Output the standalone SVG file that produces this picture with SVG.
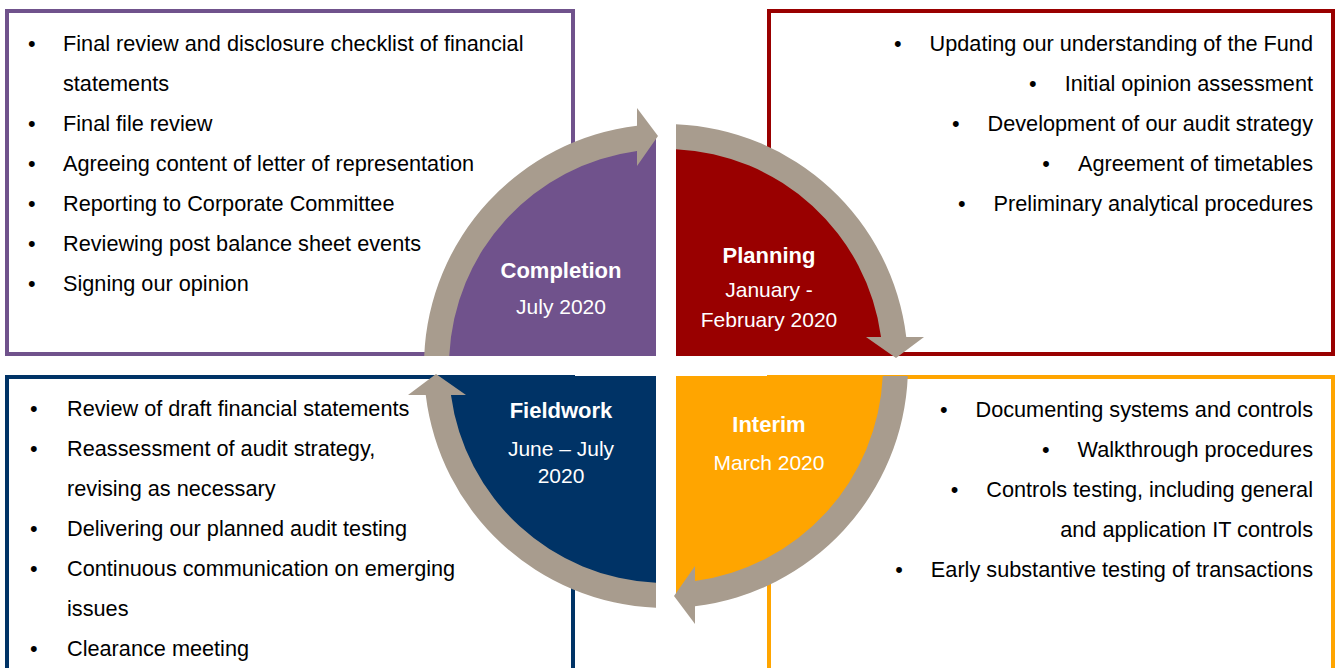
<svg xmlns="http://www.w3.org/2000/svg" xmlns:xlink="http://www.w3.org/1999/xlink" width="1342" height="668" viewBox="0 0 1342 668">
<style>
  .box { fill: #ffffff; stroke-width: 4; }
  .body { font-family: "Liberation Sans", Arial, sans-serif; font-size: 21.7px; fill: #000000; }
  .lbl { font-family: "Liberation Sans", Arial, sans-serif; font-size: 21px; fill: #ffffff; text-anchor: middle; }
  .lblb { font-weight: bold; font-size: 22px; }
  .r { text-anchor: end; }
  .ring { fill: #A89C8E; }
</style>
<defs>
  <path id="arrow" d="M424.21,356 A242,242 0 0 1 637,125.74 L637,108 L658,136 L637,166 L637,150.95 A217,217 0 0 0 449.23,356 Z"/>
</defs>
<rect width="1342" height="668" fill="#ffffff"/>

<g id="box-completion">
  <rect class="box" x="7" y="11" width="566" height="343" stroke="#70528C"/>
  <g class="body">
    <text x="28" y="51">•</text><text x="63" y="51">Final review and disclosure checklist of financial</text>
    <text x="63" y="91">statements</text>
    <text x="28" y="131">•</text><text x="63" y="131">Final file review</text>
    <text x="28" y="171">•</text><text x="63" y="171">Agreeing content of letter of representation</text>
    <text x="28" y="211">•</text><text x="63" y="211">Reporting to Corporate Committee</text>
    <text x="28" y="251">•</text><text x="63" y="251">Reviewing post balance sheet events</text>
    <text x="28" y="291">•</text><text x="63" y="291">Signing our opinion</text>
  </g>
</g>

<g id="box-planning">
  <rect class="box" x="769" y="11" width="564" height="343" stroke="#990000"/>
  <g class="body r">
    <text x="1313" y="51">•<tspan dx="28">Updating our understanding of the Fund</tspan></text>
    <text x="1313" y="91">•<tspan dx="28">Initial opinion assessment</tspan></text>
    <text x="1313" y="131">•<tspan dx="28">Development of our audit strategy</tspan></text>
    <text x="1313" y="171">•<tspan dx="28">Agreement of timetables</tspan></text>
    <text x="1313" y="211">•<tspan dx="28">Preliminary analytical procedures</tspan></text>
  </g>
</g>

<g id="box-fieldwork">
  <rect class="box" x="7" y="377" width="566" height="300" stroke="#003366"/>
  <g class="body">
    <text x="30" y="416">•</text><text x="67" y="416">Review of draft financial statements</text>
    <text x="30" y="456">•</text><text x="67" y="456">Reassessment of audit strategy,</text>
    <text x="67" y="496">revising as necessary</text>
    <text x="30" y="536">•</text><text x="67" y="536">Delivering our planned audit testing</text>
    <text x="30" y="576">•</text><text x="67" y="576">Continuous communication on emerging</text>
    <text x="67" y="616">issues</text>
    <text x="30" y="656">•</text><text x="67" y="656">Clearance meeting</text>
  </g>
</g>

<g id="box-interim">
  <rect class="box" x="769" y="377" width="564" height="300" stroke="#FFA500"/>
  <g class="body r">
    <text x="1313" y="417">•<tspan dx="28">Documenting systems and controls</tspan></text>
    <text x="1313" y="457">•<tspan dx="28">Walkthrough procedures</tspan></text>
    <text x="1313" y="497">•<tspan dx="28">Controls testing, including general</tspan></text>
    <text x="1313" y="537">and application IT controls</text>
    <text x="1313" y="577">•<tspan dx="28">Early substantive testing of transactions</tspan></text>
  </g>
</g>

<g id="quadrant-completion">
  <path d="M656,356 V136.2 A230,230 0 0 0 436.2,356 Z" fill="#70528C"/>
  <text class="lbl lblb" x="561" y="278">Completion</text>
  <text class="lbl" x="561" y="314">July 2020</text>
</g>
<g id="quadrant-planning">
  <path d="M676,356 V136.2 A230,230 0 0 1 895.8,356 Z" fill="#990000"/>
  <text class="lbl lblb" x="769" y="263">Planning</text>
  <text class="lbl" x="769" y="297">January -</text>
  <text class="lbl" x="769" y="327">February 2020</text>
</g>
<g id="quadrant-interim">
  <path d="M676,376 H895.8 A230,230 0 0 1 676,595.8 Z" fill="#FFA500"/>
  <text class="lbl lblb" x="769" y="432">Interim</text>
  <text class="lbl" x="769" y="470">March 2020</text>
</g>
<g id="quadrant-fieldwork">
  <path d="M656,376 V595.8 A230,230 0 0 1 436.2,376 Z" fill="#003366"/>
  <text class="lbl lblb" x="561" y="418">Fieldwork</text>
  <text class="lbl" x="561" y="456">June – July</text>
  <text class="lbl" x="561" y="483">2020</text>
</g>

<g id="connectors" class="ring">
  <use xlink:href="#arrow" href="#arrow"/>
  <use xlink:href="#arrow" href="#arrow" transform="rotate(90 666 366)"/>
  <use xlink:href="#arrow" href="#arrow" transform="rotate(180 666 366)"/>
  <use xlink:href="#arrow" href="#arrow" transform="rotate(270 666 366)"/>
</g>
</svg>
